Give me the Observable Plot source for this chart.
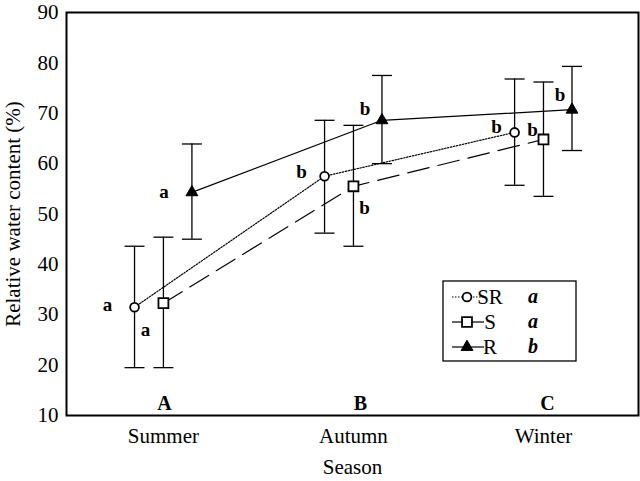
<!DOCTYPE html>
<html><head><meta charset="utf-8">
<script src="https://cdn.jsdelivr.net/npm/d3@7"></script>
<script src="https://cdn.jsdelivr.net/npm/@observablehq/plot@0.6"></script>
<style>html,body{margin:0;padding:0;background:#fff;overflow:hidden;} #chart svg{display:block;}</style>
</head><body><div id="chart"></div>
<script>
// ---- data ----
const seasons = ["Summer", "Autumn", "Winter"];
const seasonLetters = ["A", "B", "C"];
const seriesNames = ["SR", "S", "R"];
const seriesLetters = ["a", "a", "b"];
const yTicks = [10, 20, 30, 40, 50, 60, 70, 80, 90];

const srMean  = [31.5, 57.5, 66.2];
const srUpper = [43.6, 68.6, 76.8];
const srLower = [19.5, 46.2, 55.7];
const srSig   = ["a", "b", "b"];

const sMean  = [32.3, 55.5, 64.8];
const sUpper = [45.4, 67.6, 76.2];
const sLower = [19.5, 43.6, 53.5];
const sSig   = ["a", "b", "b"];

const rMean  = [54.3, 68.6, 70.7];
const rUpper = [63.9, 77.5, 79.3];
const rLower = [45.0, 60.0, 62.6];
const rSig   = ["a", "b", "b"];

// ---- layout (not data) ----
const xOffset = {SR: -0.152, S: 0, R: 0.15};
const sigOffset = {
  SR: [[-27, -2], [-23, -4], [-18, -5]],
  S:  [[-18, 27], [11, 22], [-11, -10]],
  R:  [[-28, 0], [-17, -11], [-12, -15]]
};
const seasonLetterDx = [1, 7, 4];
const FONT = "'Liberation Serif', 'Times New Roman', serif";

const table = [
  {name: "SR", mean: srMean, up: srUpper, lo: srLower, sig: srSig},
  {name: "S",  mean: sMean,  up: sUpper,  lo: sLower,  sig: sSig},
  {name: "R",  mean: rMean,  up: rUpper,  lo: rLower,  sig: rSig}
];
const rows = table.flatMap(t => seasons.map((s, j) => ({
  series: t.name, season: s, x: j + 1 + xOffset[t.name],
  mean: t.mean[j], up: t.up[j], lo: t.lo[j], sig: t.sig[j],
  dx: sigOffset[t.name][j][0], dy: sigOffset[t.name][j][1]
})));
const of = n => rows.filter(r => r.series === n);

const capSymbol = {draw(ctx) { ctx.moveTo(-10, 0); ctx.lineTo(10, 0); }};

const marks = [
  Plot.axisY({ticks: yTicks, tickSize: 0, tickPadding: 8, label: null, fontSize: 21}),
  Plot.axisX({ticks: [1, 2, 3], tickFormat: i => seasons[i - 1], tickSize: 0, tickPadding: 13, label: null, fontSize: 21}),
  Plot.text(["Relative water content (%)"], {frameAnchor: "left", rotate: -90, dx: -53, fontSize: 21, lineAnchor: "middle", textAnchor: "middle"}),
  Plot.text(["Season"], {frameAnchor: "bottom", dy: 52, fontSize: 21, lineAnchor: "middle"}),
  // lines
  Plot.line(of("SR"), {x: "x", y: "mean", stroke: "black", strokeWidth: 1.2, strokeDasharray: "1.5,1.5"}),
  Plot.line(of("S"),  {x: "x", y: "mean", stroke: "black", strokeWidth: 1.2, strokeDasharray: "22,9"}),
  Plot.line(of("R"),  {x: "x", y: "mean", stroke: "black", strokeWidth: 1.2}),
  // error bars
  Plot.ruleX(rows, {x: "x", y1: "lo", y2: "up", stroke: "black", strokeWidth: 1.3}),
  Plot.dot(rows, {x: "x", y: "up", symbol: capSymbol, stroke: "black", strokeWidth: 1.3}),
  Plot.dot(rows, {x: "x", y: "lo", symbol: capSymbol, stroke: "black", strokeWidth: 1.3}),
  // markers
  Plot.dot(of("SR"), {x: "x", y: "mean", symbol: "circle", r: 4.4, fill: "white", stroke: "black", strokeWidth: 1.8}),
  Plot.dot(of("S"),  {x: "x", y: "mean", symbol: "square", r: 5.6, fill: "white", stroke: "black", strokeWidth: 1.8}),
  Plot.dot(of("R"),  {x: "x", y: "mean", symbol: "triangle", r: 4.4, fill: "black", stroke: "black", strokeWidth: 1}),
  // significance letters
  ...rows.map(r => Plot.text([r], {x: "x", y: "mean", text: "sig", dx: r.dx, dy: r.dy, fontSize: 19, fontWeight: "bold", lineAnchor: "middle"})),
  // season letters
  ...seasonLetters.map((L, j) => Plot.text([L], {x: () => j + 1, frameAnchor: "bottom", dy: -12, dx: seasonLetterDx[j], fontSize: 20, fontWeight: "bold", lineAnchor: "middle"})),
  Plot.frame({stroke: "black", strokeWidth: 2})
];

const plot = Plot.plot({
  width: 640, height: 481,
  marginLeft: 66, marginRight: 2, marginTop: 12, marginBottom: 66,
  style: {fontFamily: FONT, fontSize: "21px", color: "#000", background: "#fff"},
  x: {domain: [0.49, 3.5]},
  y: {domain: [10, 90]},
  marks
});

// legend (layout element)
const svg = d3.select(plot);
const g = svg.append("g").attr("font-family", FONT).attr("fill", "black");
g.append("rect").attr("x", 443).attr("y", 281).attr("width", 133).attr("height", 80)
  .attr("fill", "white").attr("stroke", "black").attr("stroke-width", 1.3);
const legendStyle = [
  {dash: "1.5,1.5", sym: d3.symbolCircle, r: 4.4, fill: "white", sw: 1.8},
  {dash: null, sym: d3.symbolSquare, r: 5.6, fill: "white", sw: 1.8},
  {dash: null, sym: d3.symbolTriangle, r: 4.4, fill: "black", sw: 1}
];
seriesNames.forEach((n, i) => {
  const y = 297 + i * 25;
  const st = legendStyle[i];
  g.append("line").attr("x1", 452).attr("x2", 484).attr("y1", y).attr("y2", y)
    .attr("stroke", "black").attr("stroke-width", 1.2).attr("stroke-dasharray", st.dash);
  g.append("path").attr("transform", `translate(467,${y})`)
    .attr("d", d3.symbol(st.sym, st.r * st.r * Math.PI)())
    .attr("fill", st.fill).attr("stroke", "black").attr("stroke-width", st.sw);
  g.append("text").attr("x", 490).attr("y", y + 7).attr("font-size", 21).text(n);
  g.append("text").attr("x", 533).attr("y", y + 6).attr("font-size", 20)
    .attr("font-weight", "bold").attr("font-style", "italic").attr("text-anchor", "middle").text(seriesLetters[i]);
});

document.getElementById("chart").appendChild(plot);
</script>
</body></html>
